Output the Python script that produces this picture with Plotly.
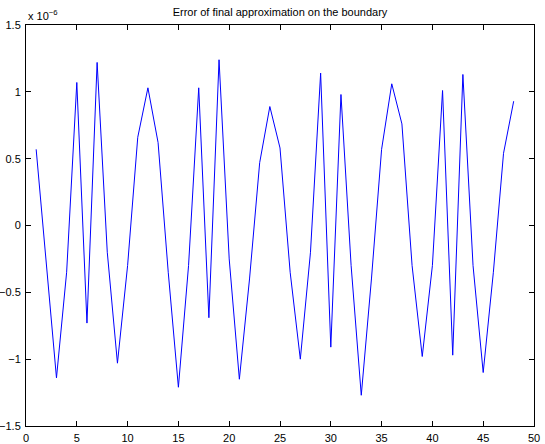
import plotly.graph_objects as go

# puntos del borde (1..48) y error en unidades de 1e-6
idx = list(range(1, 49))
error = [0.57, -0.30, -1.14, -0.35, 1.07, -0.73, 1.22, -0.20, -1.03, -0.30,
         0.66, 1.03, 0.62, -0.35, -1.21, -0.30, 1.03, -0.69, 1.24, -0.25,
         -1.15, -0.40, 0.47, 0.89, 0.58, -0.35, -1.00, -0.20, 1.14, -0.91,
         0.98, -0.30, -1.27, -0.40, 0.57, 1.06, 0.76, -0.30, -0.98, -0.30,
         1.01, -0.97, 1.13, -0.30, -1.10, -0.35, 0.54, 0.93]

xticks = [0, 5, 10, 15, 20, 25, 30, 35, 40, 45, 50]
yticks = [-1.5, -1, -0.5, 0, 0.5, 1, 1.5]

fig = go.Figure()
fig.add_trace(go.Scatter(x=idx, y=error, mode='lines',
                         line=dict(color='#0000ff', width=1)))

eje = dict(showline=True, linecolor='black', linewidth=1, mirror='ticks',
           ticks='inside', ticklen=5, tickcolor='black', showgrid=False,
           zeroline=False, automargin=False, ticklabelstandoff=2,
           tickfont=dict(size=11, color='black'))

fig.update_layout(
    width=545, height=444,
    margin=dict(l=26, r=11, t=25, b=18),
    plot_bgcolor='white', paper_bgcolor='white',
    font=dict(family='Liberation Sans, Arial, sans-serif', size=11, color='black'),
    showlegend=False,
    title=dict(text='Error of final approximation on the boundary',
               x=0.5, xref='paper', xanchor='center', y=0.972, yanchor='middle',
               font=dict(size=11)),
    xaxis=dict(range=[0, 50], tickvals=xticks, **eje),
    yaxis=dict(range=[-1.5, 1.5], tickvals=yticks, **eje),
)

fig.add_annotation(text='x 10<sup>−6</sup>', xref='paper', yref='paper',
                   x=0, y=1, xanchor='left', yanchor='bottom', yshift=1,
                   showarrow=False, font=dict(size=11))

# quitar el margen por defecto del body para que la figura quede en (0,0)
fig.write_html("out.html", config={'displayModeBar': False},
               post_script="document.body.style.margin='0';")
